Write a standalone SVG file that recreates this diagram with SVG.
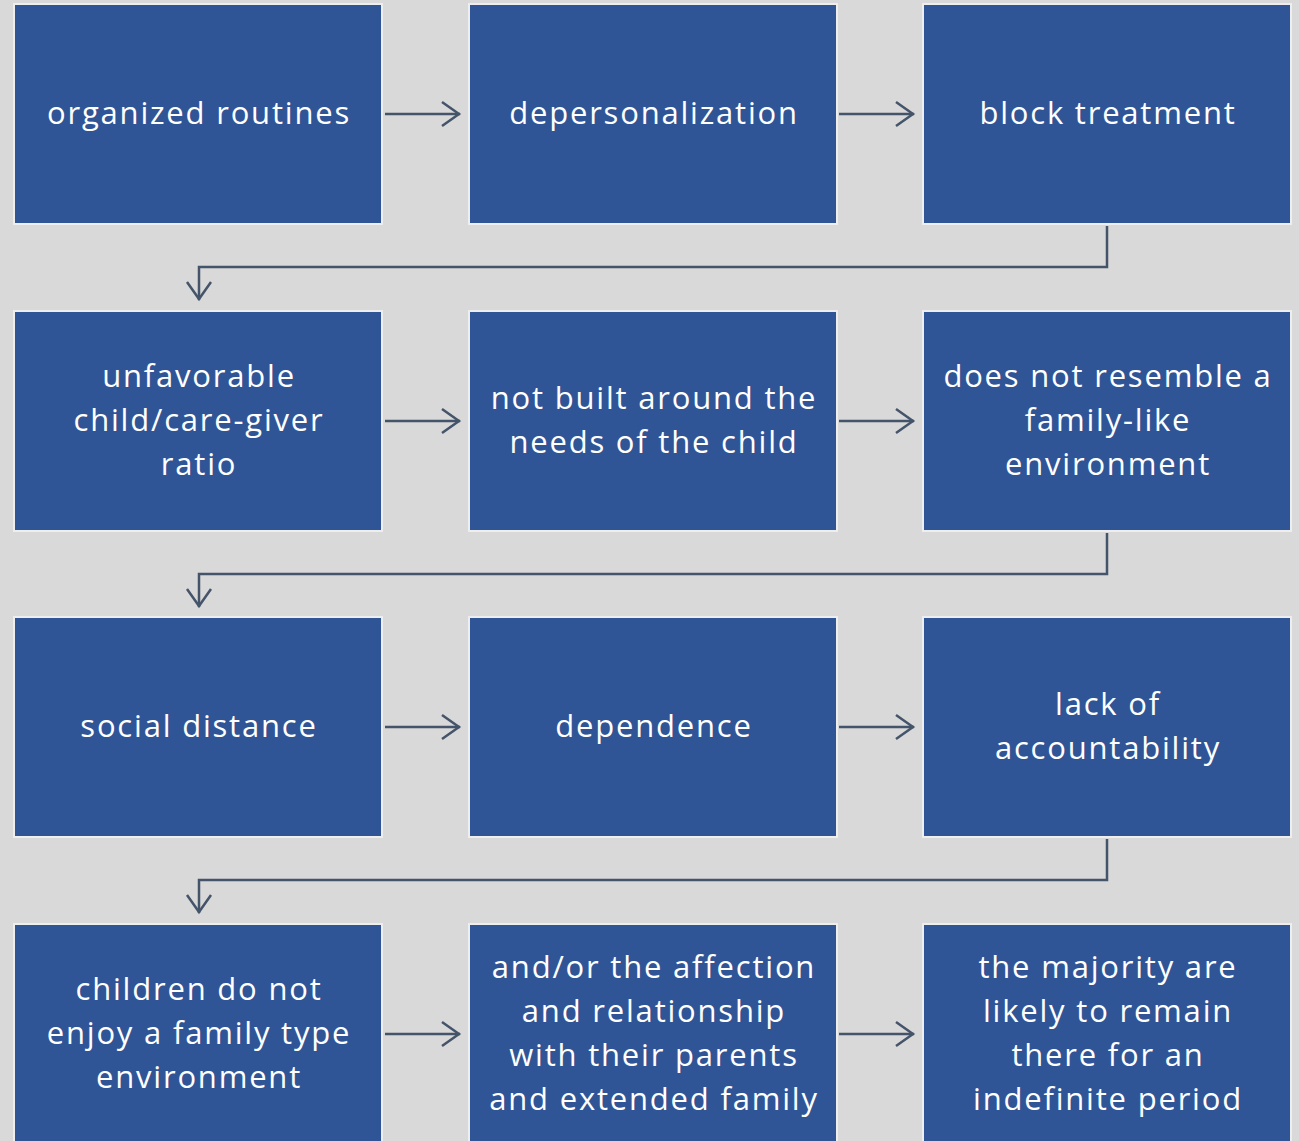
<svg xmlns="http://www.w3.org/2000/svg" width="1299" height="1141" viewBox="0 0 1299 1141">
  <defs>
    <style>
      .box { fill: #2f5597; stroke: #eeeeee; stroke-width: 2; }
      .lbl { fill: #ffffff; font-family: "Open Sans", "Liberation Sans", sans-serif; font-size: 31px; letter-spacing: 1.8px; text-anchor: middle; }
      .conn { fill: none; stroke: #44546a; stroke-width: 2.5; }
    </style>
    <marker id="chevL" viewBox="0 0 24 30" refX="22" refY="15" markerWidth="24" markerHeight="30" markerUnits="userSpaceOnUse" orient="auto">
      <path d="M4,3 L21,15 L4,27" fill="none" stroke="#44546a" stroke-width="2.5"/>
    </marker>
  </defs>
  <rect width="1299" height="1141" fill="#d9d9d9"/>

  <!-- row 1 -->
  <g id="n1"><rect class="box" x="14" y="4" width="368" height="220"/><text class="lbl" x="199" y="124">organized routines</text></g>
  <g id="n2"><rect class="box" x="469" y="4" width="368" height="220"/><text class="lbl" x="654" y="124">depersonalization</text></g>
  <g id="n3"><rect class="box" x="923" y="4" width="368" height="220"/><text class="lbl" x="1108" y="124">block treatment</text></g>

  <!-- row 2 -->
  <g id="n4"><rect class="box" x="14" y="311" width="368" height="220"/>
    <text class="lbl" x="199" y="387">unfavorable</text>
    <text class="lbl" x="199" y="431">child/care-giver</text>
    <text class="lbl" x="199" y="475">ratio</text></g>
  <g id="n5"><rect class="box" x="469" y="311" width="368" height="220"/>
    <text class="lbl" x="654" y="409">not built around the</text>
    <text class="lbl" x="654" y="453">needs of the child</text></g>
  <g id="n6"><rect class="box" x="923" y="311" width="368" height="220"/>
    <text class="lbl" x="1108" y="387">does not resemble a</text>
    <text class="lbl" x="1108" y="431">family-like</text>
    <text class="lbl" x="1108" y="475">environment</text></g>

  <!-- row 3 -->
  <g id="n7"><rect class="box" x="14" y="617" width="368" height="220"/><text class="lbl" x="199" y="737">social distance</text></g>
  <g id="n8"><rect class="box" x="469" y="617" width="368" height="220"/><text class="lbl" x="654" y="737">dependence</text></g>
  <g id="n9"><rect class="box" x="923" y="617" width="368" height="220"/>
    <text class="lbl" x="1108" y="715">lack of</text>
    <text class="lbl" x="1108" y="759">accountability</text></g>

  <!-- row 4 -->
  <g id="n10"><rect class="box" x="14" y="924" width="368" height="220"/>
    <text class="lbl" x="199" y="1000">children do not</text>
    <text class="lbl" x="199" y="1044">enjoy a family type</text>
    <text class="lbl" x="199" y="1088">environment</text></g>
  <g id="n11"><rect class="box" x="469" y="924" width="368" height="220"/>
    <text class="lbl" x="654" y="978">and/or the affection</text>
    <text class="lbl" x="654" y="1022">and relationship</text>
    <text class="lbl" x="654" y="1066">with their parents</text>
    <text class="lbl" x="654" y="1110">and extended family</text></g>
  <g id="n12"><rect class="box" x="923" y="924" width="368" height="220"/>
    <text class="lbl" x="1108" y="978">the majority are</text>
    <text class="lbl" x="1108" y="1022">likely to remain</text>
    <text class="lbl" x="1108" y="1066">there for an</text>
    <text class="lbl" x="1108" y="1110">indefinite period</text></g>

  <!-- connectors -->
  <g id="connectors">
    <path class="conn" d="M385,114 H460" marker-end="url(#chevL)"/>
    <path class="conn" d="M839,114 H914" marker-end="url(#chevL)"/>
    <path class="conn" d="M1107,226 V267 H199 V300" marker-end="url(#chevL)"/>
    <path class="conn" d="M385,421 H460" marker-end="url(#chevL)"/>
    <path class="conn" d="M839,421 H914" marker-end="url(#chevL)"/>
    <path class="conn" d="M1107,533 V574 H199 V607" marker-end="url(#chevL)"/>
    <path class="conn" d="M385,727 H460" marker-end="url(#chevL)"/>
    <path class="conn" d="M839,727 H914" marker-end="url(#chevL)"/>
    <path class="conn" d="M1107,839 V880 H199 V913" marker-end="url(#chevL)"/>
    <path class="conn" d="M385,1034 H460" marker-end="url(#chevL)"/>
    <path class="conn" d="M839,1034 H914" marker-end="url(#chevL)"/>
  </g>
</svg>
